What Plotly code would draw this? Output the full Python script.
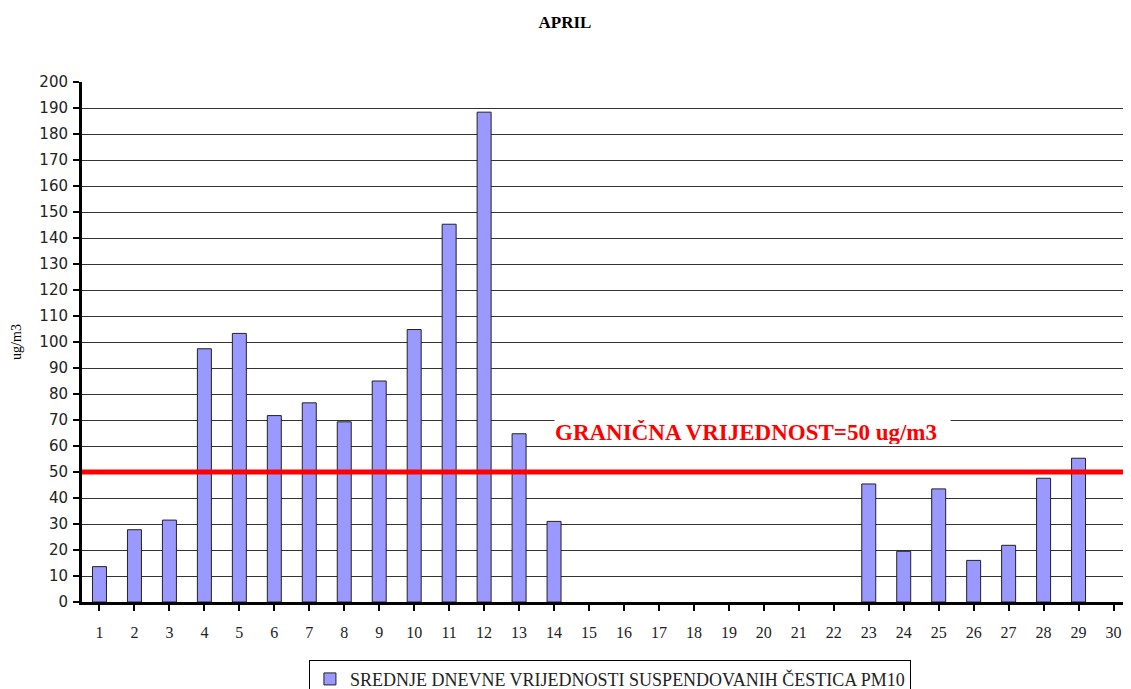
import plotly.graph_objects as go

days = list(range(1, 31))
# None = no measurement for that day
pm10 = [13.6, 27.8, 31.5, 97.4, 103.3, 71.7, 76.6, 69.3, 85.0, 104.8,
        145.3, 188.4, 64.7, 31.0, None, None, None, None, None, None,
        None, None, 45.4, 19.5, 43.5, 16.0, 21.8, 47.6, 55.3, None]
limit_value = 50
series_name = "SREDNJE DNEVNE VRIJEDNOSTI SUSPENDOVANIH ČESTICA PM10"
limit_label = "GRANIČNA VRIJEDNOST=50 ug/m3"

fig = go.Figure()
fig.add_trace(go.Bar(
    x=days, y=pm10, name=series_name, width=0.4,
    marker=dict(color="#9999FF", line=dict(color="#222222", width=1)),
    showlegend=True,
))

# limit line
fig.add_hline(y=limit_value, line=dict(color="#FF0000", width=5), layer="above")

fig.add_annotation(
    x=19.67, y=65.4, xref="x", yref="y", text="<b>" + limit_label + "</b>",
    showarrow=False, bgcolor="white", borderpad=0, width=395, height=24, align="left",
    font=dict(family="Liberation Serif", size=23, color="#FF0000"),
)

# page body has an 8px default margin, so the figure is 8px smaller than the window
fig.update_layout(
    width=1123, height=681,
    margin=dict(l=74, r=0, t=74, b=87),
    plot_bgcolor="white", paper_bgcolor="white",
    title=dict(text="<b>APRIL</b>", x=0.496, xref="container", y=0.979, yref="container",
               yanchor="middle",
               font=dict(family="Liberation Serif", size=17, color="black")),
    showlegend=True,
    legend=dict(orientation="h", xref="container", yref="container",
                x=0.536, xanchor="center", y=0.043, yanchor="top",
                bordercolor="black", borderwidth=1, bgcolor="white",
                font=dict(family="Liberation Serif", size=18, color="#222222"),
                itemwidth=30),
    xaxis=dict(range=[0.5, 30.5], tickmode="linear", dtick=1, tick0=1, automargin=False,
               showgrid=False, showline=True, linecolor="black", linewidth=3,
               ticks="outside", tickson="boundaries", ticklen=6, tickwidth=2, tickcolor="black",
               ticklabelstandoff=8,
               tickfont=dict(family="Liberation Serif", size=16, color="#222222")),
    yaxis=dict(range=[0, 200], dtick=10, showgrid=True, gridcolor="#333333", gridwidth=1,
               showline=True, linecolor="black", linewidth=3, zeroline=False, automargin=False,
               ticks="outside", ticklen=6, tickwidth=2, tickcolor="black",
               ticklabelstandoff=2,
               tickfont=dict(family="DejaVu Sans", size=15, color="#222222"),
               title=dict(text="ug/m3", standoff=15,
                          font=dict(family="Liberation Serif", size=14, color="black"))),
)

fig.write_html("out.html")
